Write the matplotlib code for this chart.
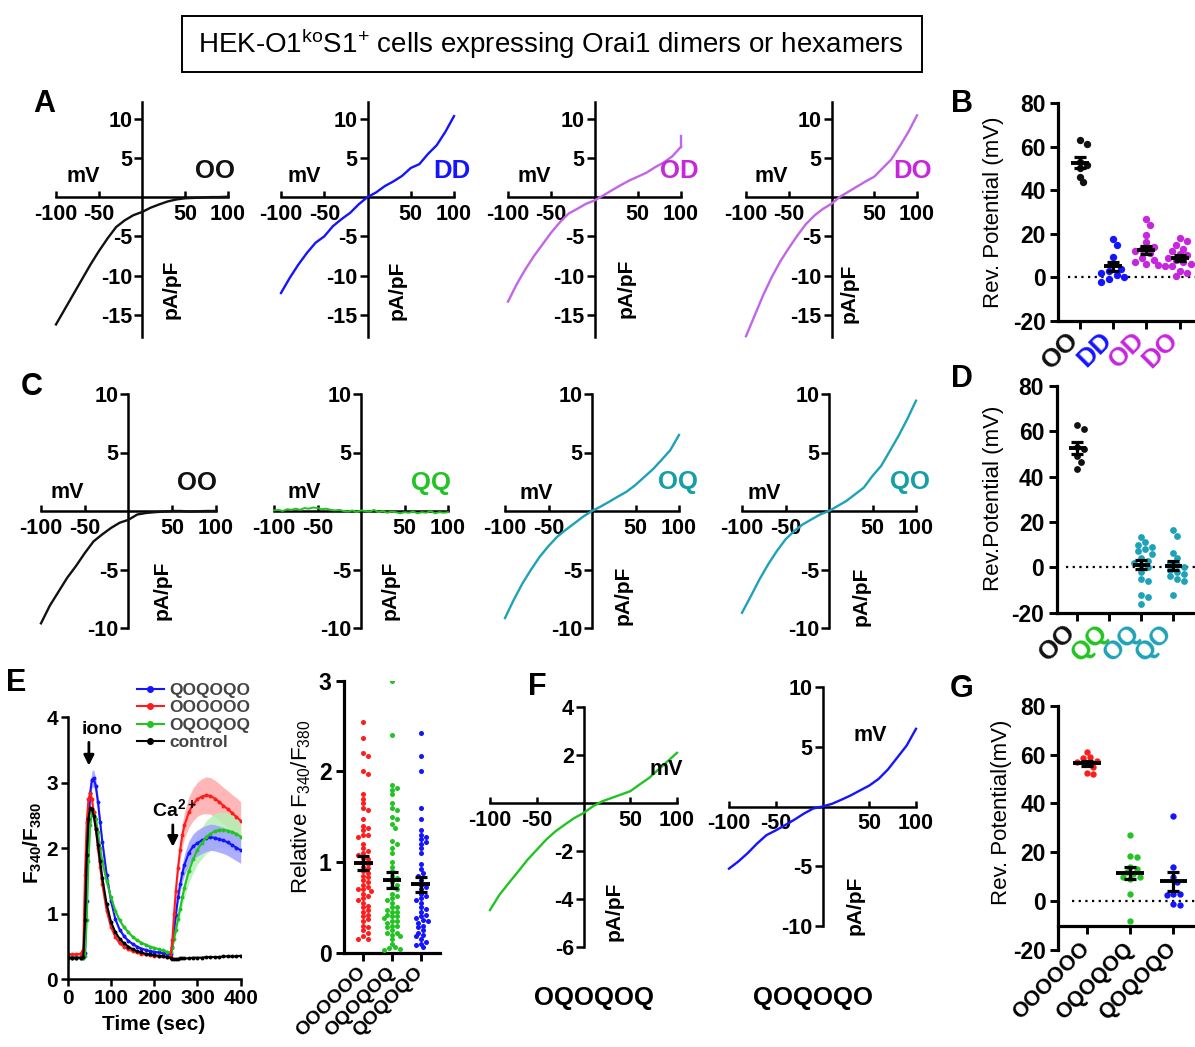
import numpy as np
import matplotlib
matplotlib.use('Agg')
import matplotlib.pyplot as plt
from matplotlib.lines import Line2D
from matplotlib.patches import Rectangle

plt.rcParams['font.family'] = ['Liberation Sans', 'DejaVu Sans']
plt.rcParams['font.weight'] = 'bold'
plt.rcParams['mathtext.fontset'] = 'custom'
plt.rcParams['mathtext.rm'] = 'Liberation Sans:weight=normal'
plt.rcParams['mathtext.bf'] = 'Liberation Sans:bold'
plt.rcParams['mathtext.it'] = 'Liberation Sans:italic'
plt.rcParams['axes.unicode_minus'] = False

# ---------------- data ----------------
MV = [-100, -90, -80, -70, -60, -50, -40, -30, -20, -10, 0,
      10, 20, 30, 40, 50, 60, 70, 80, 90, 100]
MV5 = [-100, -95, -90, -85, -80, -75, -70, -65, -60, -55, -50, -45, -40, -35,
       -30, -25, -20, -15, -10, -5, 0, 5, 10, 15, 20, 25, 30, 35, 40, 45, 50,
       55, 60, 65, 70, 75, 80, 85, 90, 95, 100]

# row A: I/V of Orai1 dimers
iv_A_OO = [-16.2, -14.3, -12.4, -10.5, -8.6, -6.85, -5.25, -3.8, -2.95, -2.3, -1.9,
           -1.35, -0.93, -0.55, -0.3, -0.15, -0.1, -0.05, 0.0, 0.0, 0.05]
iv_A_DD = [-12.2, -10.3, -8.6, -7.1, -5.8, -5.0, -3.7, -2.8, -2.0, -0.9, 0.0,
           0.6, 1.4, 2.0, 2.7, 3.7, 4.2, 5.5, 6.6, 8.3, 10.3]
iv_A_OD = [-13.3, -11.1, -9.2, -7.5, -6.0, -4.5, -3.2, -2.1, -1.5, -0.86, -0.43,
           0.2, 0.86, 1.5, 2.1, 2.6, 3.1, 3.8, 4.4, 5.2, 6.4]
iv_A_DO = [-17.7, -15.1, -12.5, -10.2, -8.2, -6.5, -4.9, -3.45, -2.35, -1.5, -0.85,
           0.05, 0.7, 1.35, 2.0, 2.6, 3.7, 4.8, 6.5, 8.3, 10.4]
iv_A_OD_end = [6.4, 7.8]

# row C: I/V with Q (non-conducting) subunits
iv_C_OO = [-9.6, -8.1, -6.9, -5.7, -4.7, -3.6, -2.6, -2.0, -1.45, -1.0, -0.75,
           -0.3, -0.17, -0.1, -0.05, 0.0, 0.0, -0.05, -0.02, 0.0, 0.0]
iv_C_QQ = [0.05, 0.1, 0.0, 0.15, 0.1, 0.2, 0.1, 0.25, 0.2, 0.3, 0.25, 0.15, 0.2, 0.1,
           0.05, 0.1, 0.0, -0.05, 0.05, -0.1, 0.05, 0.0, -0.05, 0.1, -0.1, 0.0, -0.15,
           -0.05, -0.1, -0.2, -0.1, -0.15, -0.05, -0.2, -0.1, -0.15, 0.0, -0.2, -0.1,
           -0.15, -0.1]
iv_C_OQ = [-9.15, -7.6, -6.2, -5.0, -3.9, -3.0, -2.2, -1.6, -1.04, -0.47, 0.0,
           0.38, 0.8, 1.24, 1.66, 2.23, 2.9, 3.57, 4.37, 5.2, 6.5]
iv_C_QO = [-8.7, -7.3, -5.86, -4.57, -3.43, -2.43, -1.71, -1.14, -0.71, -0.29, 0.0,
           0.43, 0.86, 1.43, 2.0, 3.0, 3.86, 5.14, 6.43, 7.86, 9.43]

# row F: hexamers
iv_F_OQOQOQ = [-4.46, -3.83, -3.34, -2.86, -2.37, -1.95, -1.53, -1.18, -0.9, -0.63, -0.42,
               -0.14, 0.07, 0.21, 0.35, 0.49, 0.77, 1.04, 1.39, 1.74, 2.09]
iv_F_QOQOQO = [-5.2, -4.6, -3.9, -3.1, -2.4, -2.0, -1.56, -1.1, -0.6, -0.17, 0.0,
               0.22, 0.56, 0.92, 1.34, 1.75, 2.31, 3.1, 4.1, 5.1, 6.5]

# reversal potentials (mV)
rev_B = {
    'OO': [63.1, 61.3, 53.2, 51.6, 50.1, 46.3, 43.7],
    'DD': [17.6, 15.0, 9.5, 6.0, 4.0, 3.0, 2.0, 1.0, 0.0, -1.0, -2.0],
    'OD': [27, 24, 19.5, 16, 14, 13, 12, 11, 9, 8, 7, 6, 5.5, 5],
    'DO': [18, 16.5, 15, 13, 12, 10.5, 10, 9, 8, 7, 6, 5, 3, 2, 0.5],
}
rev_D = {
    'OO': [63.0, 61.0, 53.0, 52.0, 49.0, 46.5, 43.6],
    'QQ': [],
    'OQ': [13.5, 11, 10, 9, 8, 7, 6, 4, 3, 2, 1, 0, -2, -5, -6, -12, -13, -16],
    'QO': [16.5, 14, 6.5, 4, 2, 1, 0, -1, -2, -3, -4, -5, -6, -12],
}
rev_G = {
    'OOOOOO': [61, 59, 58.5, 57.5, 57, 56, 55, 52.5, 52],
    'OQOQOQ': [27, 18.5, 18, 14, 13, 12, 11, 10, 10, 9, 3, -8],
    'QOQOQO': [35, 14, 10, 8, 3, 3, 2.5, -1, -1.5],
}

# relative F340/F380 after Ca2+ re-addition
rel_F = {
    'OOOOOO': [2.55, 2.37, 2.2, 2.17, 2.0, 1.97, 1.75, 1.7, 1.65, 1.6, 1.57, 1.47, 1.4,
               1.38, 1.35, 1.3, 1.3, 1.28, 1.2, 1.15, 1.12, 1.1, 1.08, 1.05, 1.03, 1.0,
               0.98, 0.95, 0.93, 0.9, 0.88, 0.85, 0.83, 0.8, 0.78, 0.75, 0.72, 0.7, 0.7,
               0.68, 0.65, 0.62, 0.6, 0.58, 0.55, 0.52, 0.5, 0.47, 0.45, 0.42, 0.4, 0.37,
               0.35, 0.3, 0.28, 0.25, 0.22, 0.18, 0.15, 0.15],
    'OQOQOQ': [3.0, 2.4, 1.85, 1.82, 1.8, 1.75, 1.65, 1.6, 1.57, 1.5, 1.47, 1.42, 1.38,
               1.23, 1.2, 1.15, 1.1, 1.0, 0.95, 0.9, 0.85, 0.82, 0.78, 0.75, 0.72, 0.7,
               0.65, 0.62, 0.6, 0.58, 0.55, 0.5, 0.5, 0.47, 0.45, 0.45, 0.42, 0.4, 0.4,
               0.38, 0.35, 0.35, 0.33, 0.3, 0.3, 0.28, 0.25, 0.22, 0.22, 0.2, 0.18, 0.15,
               0.1, 0.06, 0.05, 0.04, 0.03],
    'QOQOQO': [2.42, 2.17, 2.0, 1.6, 1.47, 1.35, 1.3, 1.28, 1.25, 1.22, 1.2, 1.15, 1.1,
               0.98, 0.92, 0.88, 0.85, 0.8, 0.75, 0.72, 0.7, 0.65, 0.62, 0.6, 0.58, 0.55,
               0.5, 0.48, 0.45, 0.42, 0.4, 0.38, 0.36, 0.35, 0.33, 0.3, 0.28, 0.25, 0.22,
               0.2, 0.18, 0.15, 0.12, 0.1, 0.08, 0.06],
}

# Fura-2 time course (sec, F340/F380)
t_sec = [0, 10, 20, 30, 36, 40, 44, 48, 52, 56, 60, 65, 70, 75, 80, 90, 100, 110, 120,
         130, 140, 150, 160, 170, 180, 190, 200, 210, 220, 230, 238, 242, 246, 250, 255,
         260, 265, 270, 280, 290, 300, 310, 320, 330, 340, 350, 360, 370, 380, 390, 400]
f_control = [0.33, 0.33, 0.33, 0.33, 0.34, 0.9, 1.9, 2.45, 2.62, 2.6, 2.5, 2.3, 2.05, 1.8,
             1.55, 1.15, 0.88, 0.72, 0.62, 0.55, 0.5, 0.46, 0.43, 0.41, 0.39, 0.38, 0.37,
             0.36, 0.35, 0.34, 0.33, 0.31, 0.31, 0.31, 0.31, 0.32, 0.32, 0.32, 0.32, 0.33,
             0.33, 0.33, 0.34, 0.34, 0.34, 0.34, 0.35, 0.35, 0.35, 0.35, 0.36]
f_OOOOOO = [0.38, 0.38, 0.38, 0.39, 0.45, 1.6, 2.4, 2.75, 2.84, 2.75, 2.55, 2.3, 2.0, 1.72,
            1.45, 1.05, 0.8, 0.65, 0.55, 0.5, 0.46, 0.43, 0.41, 0.39, 0.38, 0.37, 0.36,
            0.35, 0.35, 0.34, 0.34, 0.6, 1.0, 1.35, 1.7, 1.98, 2.2, 2.35, 2.55, 2.67, 2.75,
            2.79, 2.81, 2.8, 2.76, 2.71, 2.65, 2.6, 2.54, 2.48, 2.42]
f_QOQOQO = [0.33, 0.33, 0.33, 0.33, 0.33, 0.4, 1.2, 2.3, 2.85, 3.05, 3.07, 2.95, 2.7, 2.4,
            2.1, 1.6, 1.2, 0.92, 0.76, 0.66, 0.59, 0.54, 0.5, 0.47, 0.45, 0.43, 0.42, 0.41,
            0.4, 0.39, 0.38, 0.5, 0.75, 0.98, 1.25, 1.45, 1.62, 1.75, 1.93, 2.03, 2.08,
            2.12, 2.15, 2.17, 2.16, 2.14, 2.12, 2.09, 2.05, 2.01, 1.97]
f_OQOQOQ = [0.33, 0.33, 0.33, 0.33, 0.33, 0.35, 0.9, 1.8, 2.35, 2.55, 2.55, 2.45, 2.25, 2.0,
            1.8, 1.5, 1.25, 1.05, 0.9, 0.8, 0.72, 0.65, 0.6, 0.56, 0.53, 0.5, 0.48, 0.46,
            0.44, 0.42, 0.41, 0.48, 0.62, 0.75, 0.92, 1.08, 1.25, 1.4, 1.65, 1.83, 1.98,
            2.08, 2.17, 2.22, 2.26, 2.28, 2.28, 2.27, 2.25, 2.22, 2.18]
sem_OOOOOO = [0.02, 0.02, 0.02, 0.02, 0.02, 0.06, 0.08, 0.1, 0.1, 0.1, 0.09, 0.08, 0.07,
              0.06, 0.05, 0.04, 0.03, 0.03, 0.02, 0.02, 0.02, 0.02, 0.02, 0.02, 0.02, 0.02,
              0.02, 0.02, 0.02, 0.02, 0.02, 0.05, 0.08, 0.1, 0.13, 0.15, 0.18, 0.2, 0.23,
              0.25, 0.26, 0.27, 0.28, 0.28, 0.28, 0.28, 0.28, 0.28, 0.28, 0.29, 0.29]
sem_QOQOQO = [0.02, 0.02, 0.02, 0.02, 0.02, 0.03, 0.06, 0.1, 0.12, 0.13, 0.13, 0.12, 0.11,
              0.1, 0.09, 0.07, 0.05, 0.04, 0.03, 0.03, 0.02, 0.02, 0.02, 0.02, 0.02, 0.02,
              0.02, 0.02, 0.02, 0.02, 0.02, 0.04, 0.06, 0.08, 0.1, 0.12, 0.14, 0.16, 0.18,
              0.19, 0.2, 0.2, 0.2, 0.2, 0.2, 0.2, 0.2, 0.2, 0.2, 0.2, 0.2]
sem_OQOQOQ = [0.02, 0.02, 0.02, 0.02, 0.02, 0.02, 0.04, 0.06, 0.07, 0.07, 0.07, 0.07, 0.06,
              0.06, 0.05, 0.04, 0.04, 0.03, 0.03, 0.03, 0.02, 0.02, 0.02, 0.02, 0.02, 0.02,
              0.02, 0.02, 0.02, 0.02, 0.02, 0.03, 0.05, 0.07, 0.09, 0.11, 0.13, 0.15, 0.18,
              0.2, 0.22, 0.24, 0.25, 0.26, 0.27, 0.27, 0.27, 0.27, 0.27, 0.27, 0.26]

BLACK = '#111111'
BLUE = '#1414ff'
VIOLET = '#c066e6'
VIOLET_TXT = '#c626dc'
GREEN = '#22c322'
TEAL = '#1ea2b8'
TEAL_TXT = '#159ea6'
RED = '#ff1c1c'

W, H = 1195, 1047
fig = plt.figure(figsize=(W / 100, H / 100), dpi=100)


def px(l, t, r, b):
    return [l / W, 1 - b / H, (r - l) / W, (b - t) / H]


def ftext(x, y, s, **kw):
    return fig.text(x / W, 1 - y / H, s, **kw)


def iv_panel(rect, mv, cur, color, ylim, yticks, name, name_xy, name_color,
             mv_xy, pa_xy, lw=1.7):
    ax = fig.add_axes(px(*rect))
    ax.patch.set_alpha(0)
    ax.plot(mv, cur, color=color, lw=lw, clip_on=False, zorder=3)
    ax.set_xlim(-100, 100)
    ax.set_ylim(*ylim)
    for s in ['top', 'right']:
        ax.spines[s].set_visible(False)
    for s in ['left', 'bottom']:
        ax.spines[s].set_position(('data', 0))
        ax.spines[s].set_linewidth(1.8)
    ax.set_xticks([-100, -50, 50, 100])
    ax.set_yticks(yticks)
    ax.tick_params(axis='x', direction='in', length=4.5, width=1.8, pad=5, labelsize=15.5)
    ax.tick_params(axis='y', direction='out', length=5.5, width=1.8, pad=1.5, labelsize=15.5)
    ax.text(mv_xy[0], mv_xy[1], 'mV', ha='center', va='center', fontsize=15.5)
    ax.text(pa_xy[0], pa_xy[1], 'pA/pF', rotation=90, ha='center', va='center', fontsize=15)
    if name:
        ax.text(name_xy[0], name_xy[1], name, color=name_color, fontsize=18.5,
                ha='center', va='center')
    return ax


def swarm(vals, xpx, ypx, d):
    pts = []
    out = []
    for v in vals:
        y = v * ypx
        k = 0
        found = None
        while found is None:
            for sgn in ([0] if k == 0 else [1, -1]):
                x = sgn * k * d * 0.55
                if all((x - a) ** 2 + (y - b) ** 2 >= (0.95 * d) ** 2 for a, b in pts):
                    found = x
                    break
            k += 1
        pts.append((found, y))
        out.append(found / xpx)
    return np.array(out)


def dot_panel(rect, xlim, ylim, yticks, groups, dot_colors, label_colors, cat_px,
              dot_px, ms, half, cap, lab_size, lab_va='center', lab_pad=8,
              zero_line=True, bottom_at=None):
    ax = fig.add_axes(px(*rect))
    ax.patch.set_alpha(0)
    ax.set_xlim(*xlim)
    ax.set_ylim(*ylim)
    ypx = (rect[3] - rect[1]) / (ylim[1] - ylim[0])
    if zero_line:
        ax.plot([-0.35, xlim[1]], [0, 0], ls=(0, (1, 2)), color='k', lw=1.6, zorder=1)
    names = list(groups.keys())
    for i, nm in enumerate(names):
        v = np.array(groups[nm], dtype=float)
        if len(v) == 0:
            continue
        xs = i + swarm(v, cat_px, ypx, dot_px)
        ax.scatter(xs, v, s=ms, color=dot_colors[i], lw=0, zorder=3)
        m = v.mean()
        se = v.std(ddof=1) / np.sqrt(len(v))
        ax.plot([i - half, i + half], [m, m], color='k', lw=2.8, zorder=4,
                solid_capstyle='butt')
        ax.errorbar(i, m, yerr=se, color='k', capsize=cap, capthick=2.3,
                    elinewidth=2.3, zorder=4)
    for s in ['top', 'right']:
        ax.spines[s].set_visible(False)
    for s in ['left', 'bottom']:
        ax.spines[s].set_linewidth(2.3)
    if bottom_at is not None:
        ax.spines['bottom'].set_position(('data', bottom_at))
    ax.set_yticks(yticks)
    ax.set_xticks(range(len(names)))
    ax.set_xticklabels(names, rotation=45, ha='right', va=lab_va, rotation_mode='anchor',
                       fontsize=lab_size)
    for lab, c in zip(ax.get_xticklabels(), label_colors):
        lab.set_color(c)
    ax.tick_params(axis='both', direction='out', length=5.5, width=2.1, labelsize=16.5)
    ax.tick_params(axis='x', labelsize=lab_size, pad=lab_pad)
    return ax


# ---------------- title ----------------
fig.add_artist(Rectangle((182 / W, 1 - 72 / H), (922 - 182) / W, (72 - 16) / H,
                         transform=fig.transFigure, fill=False, lw=1.4, ec='k'))
ftext(551, 44, r'HEK-O1$^{\mathrm{ko}}$S1$^{+}$ cells expressing Orai1 dimers or hexamers',
      ha='center', va='center', fontsize=20, fontweight='normal')

# ---------------- row A ----------------
ylimA = (-17.8, 12.1)
ytA = [-15, -10, -5, 5, 10]
iv_panel((56, 102, 228, 337), MV, iv_A_OO, BLACK, ylimA, ytA, 'OO', (85, 3.3), BLACK,
         (-68, 2.6), (34, -11.7))
iv_panel((281, 102, 454, 337), MV, iv_A_DD, BLUE, ylimA, ytA, 'DD', (97, 3.3), BLUE,
         (-73, 2.6), (34, -11.8))
axOD = iv_panel((508, 102, 681, 337), MV, iv_A_OD, VIOLET, ylimA, ytA, 'OD', (98, 3.3),
                VIOLET_TXT, (-70, 2.6), (36, -11.6))
axOD.plot([100, 100], iv_A_OD_end, color=VIOLET, lw=1.7, clip_on=False)
iv_panel((746, 102, 917, 337), MV, iv_A_DO, VIOLET, ylimA, ytA, 'DO', (95, 3.3),
         VIOLET_TXT, (-70, 2.6), (20, -12.3))

# ---------------- row C ----------------
ylimC = (-10, 10)
ytC = [-10, -5, 5, 10]
iv_panel((41, 394, 216, 628), MV, iv_C_OO, BLACK, ylimC, ytC, 'OO', (78.5, 2.4), BLACK,
         (-69.5, 1.6), (38, -6.8))
iv_panel((274, 394, 448, 628), MV5, iv_C_QQ, GREEN, ylimC, ytC, 'QQ', (81, 2.4), GREEN,
         (-65, 1.6), (33.6, -6.8), lw=1.4)
iv_panel((505, 394, 679, 628), MV, iv_C_OQ, TEAL, ylimC, ytC, 'OQ', (98.7, 2.5), TEAL_TXT,
         (-64.6, 1.5), (36, -7.2))
iv_panel((742, 394, 916, 628), MV, iv_C_QO, TEAL, ylimC, ytC, 'QO', (92.7, 2.5), TEAL_TXT,
         (-74, 1.5), (36.7, -7.3))

# ---------------- row F ----------------
iv_panel((490, 707, 677, 947), MV, iv_F_OQOQOQ, GREEN, (-6, 4), [-6, -4, -2, 2, 4], None,
         None, None, (88.5, 1.4), (33, -4.5))
iv_panel((729, 687, 916, 926), MV, iv_F_QOQOQO, BLUE, (-10, 10), [-10, -5, 5, 10], None,
         None, None, (50.6, 5.9), (34.5, -8.3))
ftext(594, 998, 'OQOQOQ', ha='center', va='center', fontsize=18.5)
ftext(813, 998, 'QOQOQO', ha='center', va='center', fontsize=18.5)

# ---------------- B / D / G ----------------
dot_panel((1058.3, 103.3, 1201.5, 320.7), (-0.64, 3.66), (-20, 80), [-20, 0, 20, 40, 60, 80],
          rev_B, [BLACK, BLUE, VIOLET_TXT, VIOLET_TXT], [BLACK, BLUE, VIOLET_TXT, VIOLET_TXT],
          33.3, 7, 28, 0.27, 4, 19, lab_va='baseline', lab_pad=9)
dot_panel((1056.7, 386, 1199.5, 612.7), (-0.64, 3.82), (-20, 80), [-20, 0, 20, 40, 60, 80],
          rev_D, [BLACK, GREEN, TEAL, TEAL], [BLACK, GREEN, TEAL, TEAL],
          32.0, 6.5, 24, 0.27, 4, 19, lab_va='baseline', lab_pad=9)
dot_panel((1058.3, 705.7, 1199.5, 950), (-0.655, 2.6), (-20, 80), [-20, 0, 20, 40, 60, 80],
          rev_G, [RED, GREEN, BLUE], ['k', 'k', 'k'], 43.3, 6, 21, 0.32, 4, 15.5,
          lab_pad=9, bottom_at=-10)
ftext(994, 212, 'Rev. Potential (mV)', rotation=90, ha='center', va='center',
      fontsize=16, fontweight='normal')
ftext(993, 498, 'Rev.Potential (mV)', rotation=90, ha='center', va='center',
      fontsize=16, fontweight='normal')
ftext(1001, 812, 'Rev. Potential(mV)', rotation=90, ha='center', va='center',
      fontsize=16, fontweight='normal')

# ---------------- relative F340/F380 ----------------
dot_panel((344, 680.7, 440, 952.7), (-0.67, 2.67), (0, 3), [0, 1, 2, 3], rel_F,
          [RED, GREEN, BLUE], ['k', 'k', 'k'], 28.7, 4.6, 13, 0.33, 4, 14,
          lab_pad=7, zero_line=False)
ftext(301, 807, r'Relative F$_{\mathrm{340}}$/F$_{\mathrm{380}}$', rotation=90, ha='center',
      va='center', fontsize=16, fontweight='normal')

# ---------------- E: time course ----------------
axE = fig.add_axes(px(67.7, 717.3, 240.7, 979.3))
axE.patch.set_alpha(0)
series = [(f_OOOOOO, sem_OOOOOO, RED, '#ffaaaa'),
          (f_OQOQOQ, sem_OQOQOQ, GREEN, '#b4f0b4'),
          (f_QOQOQO, sem_QOQOQO, BLUE, '#a0a0ff')]
for m, s, c, band in series:
    m = np.array(m)
    s = np.array(s)
    axE.fill_between(t_sec, m - s, m + s, color=band, lw=0, alpha=0.85, zorder=1)
for m, s, c, band in [series[2], series[1], series[0]]:
    axE.plot(t_sec, m, color=c, lw=1.5, marker='o', ms=2.8, mew=0, zorder=2)
axE.plot(t_sec, f_control, color='k', lw=1.5, marker='o', ms=2.8, mew=0, zorder=3)
axE.set_xlim(0, 400)
axE.set_ylim(0, 4)
axE.set_xticks([0, 100, 200, 300, 400])
axE.set_yticks([0, 1, 2, 3, 4])
for s in ['top', 'right']:
    axE.spines[s].set_visible(False)
for s in ['left', 'bottom']:
    axE.spines[s].set_linewidth(1.8)
axE.tick_params(direction='out', length=5, width=1.8, labelsize=15, pad=2)
axE.text(33, 3.82, 'iono', ha='left', va='center', fontsize=14)
axE.annotate('', xy=(49, 3.22), xytext=(49, 3.66),
             arrowprops=dict(arrowstyle='-|>,head_width=0.3,head_length=0.6', color='k', lw=2))
axE.text(246, 2.6, r'Ca$^{\mathbf{2+}}$', ha='center', va='center', fontsize=14)
axE.annotate('', xy=(243, 1.98), xytext=(243, 2.4),
             arrowprops=dict(arrowstyle='-|>,head_width=0.3,head_length=0.6', color='k', lw=2))
ftext(33, 843, r'F$_{\mathbf{340}}$/F$_{\mathbf{380}}$', rotation=90, ha='center', va='center',
      fontsize=15)
ftext(154, 1025, 'Time (sec)', ha='center', va='center', fontsize=15)
handles = [Line2D([0], [0], color=c, marker='o', ms=4, lw=1.5) for c in [BLUE, RED, GREEN, 'k']]
axE.legend(handles, ['QOQOQO', 'OOOOOO', 'OQOQOQ', 'control'], loc='upper left',
           bbox_to_anchor=(137 / W, 1 - 683 / H), bbox_transform=fig.transFigure,
           frameon=False, fontsize=12.5, handlelength=1.55, handletextpad=0.3,
           labelspacing=0.12, borderpad=0, borderaxespad=0, labelcolor='#444444')

# ---------------- panel letters ----------------
for letter, x, y in [('A', 44, 104), ('B', 962, 104), ('C', 32, 387), ('D', 962, 379),
                     ('E', 16, 683), ('F', 537, 687), ('G', 962, 689)]:
    ftext(x, y, letter, ha='center', va='center', fontsize=22)

fig.savefig('out.png', dpi=100)
